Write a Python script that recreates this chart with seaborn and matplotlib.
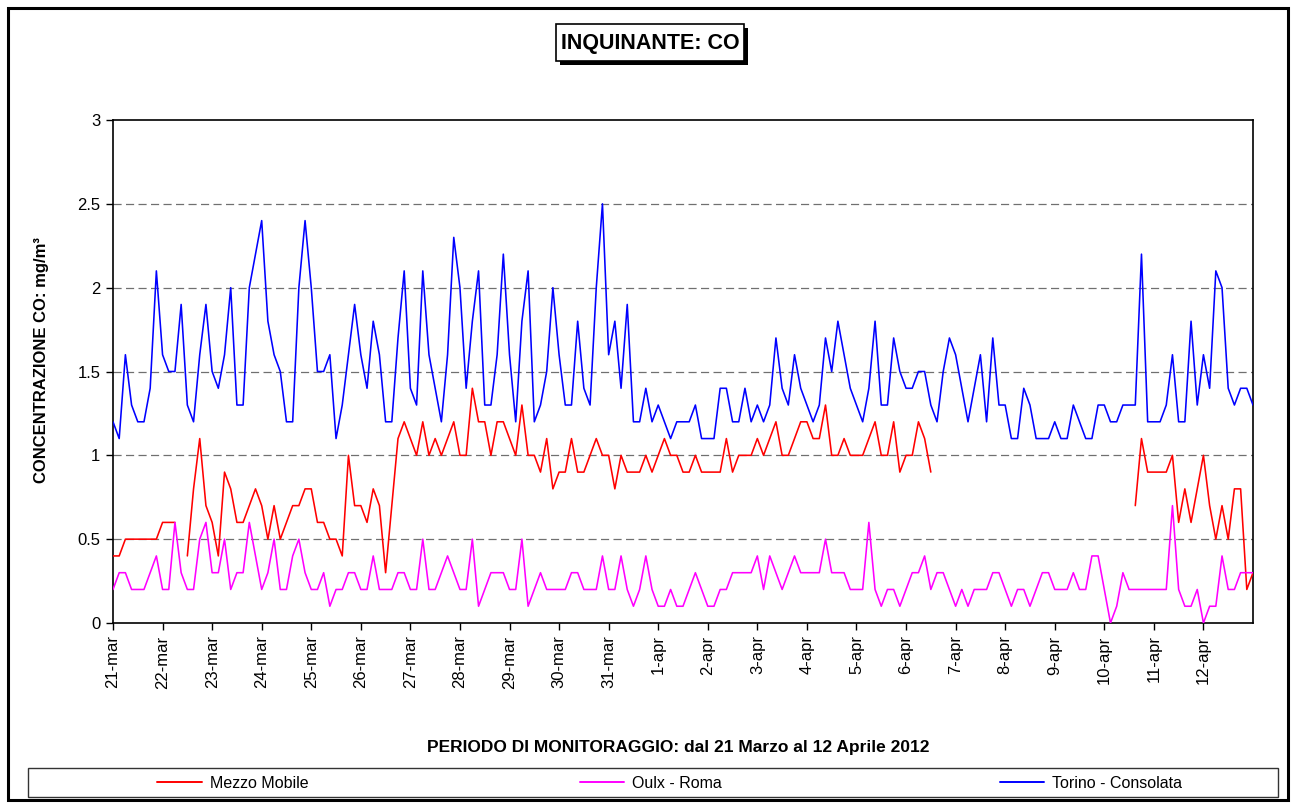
import numpy as np
import pandas as pd
import matplotlib
matplotlib.use("Agg")
import matplotlib.pyplot as plt
import seaborn as sns
from matplotlib.patches import Rectangle
from matplotlib.lines import Line2D

# ---------------- data (3-hourly readings, mg/m3) ----------------
day_labels = ["21-mar", "22-mar", "23-mar", "24-mar", "25-mar", "26-mar", "27-mar",
              "28-mar", "29-mar", "30-mar", "31-mar", "1-apr", "2-apr", "3-apr",
              "4-apr", "5-apr", "6-apr", "7-apr", "8-apr", "9-apr", "10-apr",
              "11-apr", "12-apr"]
ytick_values = [0, 0.5, 1, 1.5, 2, 2.5, 3]
ytick_labels = ["0", "0.5", "1", "1.5", "2", "2.5", "3"]
series_names = ["Mezzo Mobile", "Oulx - Roma", "Torino - Consolata"]
series_colors = ["#FF0000", "#FF00FF", "#0000FF"]
step_days = 0.125  # one reading every 3 hours

nan = np.nan
mezzo_mobile = [
    0.4, 0.4, 0.5, 0.5, 0.5, 0.5, 0.5, 0.5,
    0.6, 0.6, 0.6, nan, 0.4, 0.8, 1.1, 0.7,
    0.6, 0.4, 0.9, 0.8, 0.6, 0.6, 0.7, 0.8,
    0.7, 0.5, 0.7, 0.5, 0.6, 0.7, 0.7, 0.8,
    0.8, 0.6, 0.6, 0.5, 0.5, 0.4, 1.0, 0.7,
    0.7, 0.6, 0.8, 0.7, 0.3, 0.7, 1.1, 1.2,
    1.1, 1.0, 1.2, 1.0, 1.1, 1.0, 1.1, 1.2,
    1.0, 1.0, 1.4, 1.2, 1.2, 1.0, 1.2, 1.2,
    1.1, 1.0, 1.3, 1.0, 1.0, 0.9, 1.1, 0.8,
    0.9, 0.9, 1.1, 0.9, 0.9, 1.0, 1.1, 1.0,
    1.0, 0.8, 1.0, 0.9, 0.9, 0.9, 1.0, 0.9,
    1.0, 1.1, 1.0, 1.0, 0.9, 0.9, 1.0, 0.9,
    0.9, 0.9, 0.9, 1.1, 0.9, 1.0, 1.0, 1.0,
    1.1, 1.0, 1.1, 1.2, 1.0, 1.0, 1.1, 1.2,
    1.2, 1.1, 1.1, 1.3, 1.0, 1.0, 1.1, 1.0,
    1.0, 1.0, 1.1, 1.2, 1.0, 1.0, 1.2, 0.9,
    1.0, 1.0, 1.2, 1.1, 0.9, nan, nan, nan,
    nan, nan, nan, nan, nan, nan, nan, nan,
    nan, nan, nan, nan, nan, nan, nan, nan,
    nan, nan, nan, nan, nan, nan, nan, nan,
    nan, nan, nan, nan, nan, 0.7, 1.1, 0.9,
    0.9, 0.9, 0.9, 1.0, 0.6, 0.8, 0.6, 0.8,
    1.0, 0.7, 0.5, 0.7, 0.5, 0.8, 0.8, 0.2,
    0.3,
]
oulx_roma = [
    0.2, 0.3, 0.3, 0.2, 0.2, 0.2, 0.3, 0.4,
    0.2, 0.2, 0.6, 0.3, 0.2, 0.2, 0.5, 0.6,
    0.3, 0.3, 0.5, 0.2, 0.3, 0.3, 0.6, 0.4,
    0.2, 0.3, 0.5, 0.2, 0.2, 0.4, 0.5, 0.3,
    0.2, 0.2, 0.3, 0.1, 0.2, 0.2, 0.3, 0.3,
    0.2, 0.2, 0.4, 0.2, 0.2, 0.2, 0.3, 0.3,
    0.2, 0.2, 0.5, 0.2, 0.2, 0.3, 0.4, 0.3,
    0.2, 0.2, 0.5, 0.1, 0.2, 0.3, 0.3, 0.3,
    0.2, 0.2, 0.5, 0.1, 0.2, 0.3, 0.2, 0.2,
    0.2, 0.2, 0.3, 0.3, 0.2, 0.2, 0.2, 0.4,
    0.2, 0.2, 0.4, 0.2, 0.1, 0.2, 0.4, 0.2,
    0.1, 0.1, 0.2, 0.1, 0.1, 0.2, 0.3, 0.2,
    0.1, 0.1, 0.2, 0.2, 0.3, 0.3, 0.3, 0.3,
    0.4, 0.2, 0.4, 0.3, 0.2, 0.3, 0.4, 0.3,
    0.3, 0.3, 0.3, 0.5, 0.3, 0.3, 0.3, 0.2,
    0.2, 0.2, 0.6, 0.2, 0.1, 0.2, 0.2, 0.1,
    0.2, 0.3, 0.3, 0.4, 0.2, 0.3, 0.3, 0.2,
    0.1, 0.2, 0.1, 0.2, 0.2, 0.2, 0.3, 0.3,
    0.2, 0.1, 0.2, 0.2, 0.1, 0.2, 0.3, 0.3,
    0.2, 0.2, 0.2, 0.3, 0.2, 0.2, 0.4, 0.4,
    0.2, 0.0, 0.1, 0.3, 0.2, 0.2, 0.2, 0.2,
    0.2, 0.2, 0.2, 0.7, 0.2, 0.1, 0.1, 0.2,
    0.0, 0.1, 0.1, 0.4, 0.2, 0.2, 0.3, 0.3,
    0.3,
]
torino_consolata = [
    1.2, 1.1, 1.6, 1.3, 1.2, 1.2, 1.4, 2.1,
    1.6, 1.5, 1.5, 1.9, 1.3, 1.2, 1.6, 1.9,
    1.5, 1.4, 1.6, 2.0, 1.3, 1.3, 2.0, 2.2,
    2.4, 1.8, 1.6, 1.5, 1.2, 1.2, 2.0, 2.4,
    2.0, 1.5, 1.5, 1.6, 1.1, 1.3, 1.6, 1.9,
    1.6, 1.4, 1.8, 1.6, 1.2, 1.2, 1.7, 2.1,
    1.4, 1.3, 2.1, 1.6, 1.4, 1.2, 1.6, 2.3,
    2.0, 1.4, 1.8, 2.1, 1.3, 1.3, 1.6, 2.2,
    1.6, 1.2, 1.8, 2.1, 1.2, 1.3, 1.5, 2.0,
    1.6, 1.3, 1.3, 1.8, 1.4, 1.3, 2.0, 2.5,
    1.6, 1.8, 1.4, 1.9, 1.2, 1.2, 1.4, 1.2,
    1.3, 1.2, 1.1, 1.2, 1.2, 1.2, 1.3, 1.1,
    1.1, 1.1, 1.4, 1.4, 1.2, 1.2, 1.4, 1.2,
    1.3, 1.2, 1.3, 1.7, 1.4, 1.3, 1.6, 1.4,
    1.3, 1.2, 1.3, 1.7, 1.5, 1.8, 1.6, 1.4,
    1.3, 1.2, 1.4, 1.8, 1.3, 1.3, 1.7, 1.5,
    1.4, 1.4, 1.5, 1.5, 1.3, 1.2, 1.5, 1.7,
    1.6, 1.4, 1.2, 1.4, 1.6, 1.2, 1.7, 1.3,
    1.3, 1.1, 1.1, 1.4, 1.3, 1.1, 1.1, 1.1,
    1.2, 1.1, 1.1, 1.3, 1.2, 1.1, 1.1, 1.3,
    1.3, 1.2, 1.2, 1.3, 1.3, 1.3, 2.2, 1.2,
    1.2, 1.2, 1.3, 1.6, 1.2, 1.2, 1.8, 1.3,
    1.6, 1.4, 2.1, 2.0, 1.4, 1.3, 1.4, 1.4,
    1.3,
]

# ---------------- long table (segments keep the data gaps) ----------------
rows = []
for name, vals in zip(series_names, [mezzo_mobile, oulx_roma, torino_consolata]):
    seg = 0
    prev_nan = False
    for i, v in enumerate(vals):
        if np.isnan(v):
            prev_nan = True
            continue
        if prev_nan:
            seg += 1
            prev_nan = False
        rows.append({"t": i * step_days, "v": v, "series": name, "seg": seg})
df = pd.DataFrame(rows)

# ---------------- figure ----------------
sns.set_style("white")
plt.rcParams["font.family"] = ["Liberation Sans", "DejaVu Sans"]
plt.rcParams["text.color"] = "black"
plt.rcParams["axes.labelcolor"] = "black"
plt.rcParams["xtick.color"] = "black"
plt.rcParams["ytick.color"] = "black"

W, H = 1295, 805
fig = plt.figure(figsize=(W / 100, H / 100), dpi=100)
fig.patch.set_facecolor("white")

def fx(px):
    return px / W

def fy(py):
    return 1 - py / H

ax = fig.add_axes([fx(113), fy(623), fx(1253) - fx(113), fy(120) - fy(623)])

for yv in ytick_values[1:-1]:
    ax.axhline(yv, color="#707070", lw=0.9, ls=(0, (6.5, 3.5)), zorder=0)

sns.lineplot(data=df, x="t", y="v", hue="series", units="seg", estimator=None,
             hue_order=series_names, palette=series_colors, sort=False,
             lw=1.15, legend=False, ax=ax, zorder=3)

ax.set_xlim(0, len(day_labels))
ax.set_ylim(0, 3)
ax.set_yticks(ytick_values)
ax.set_yticklabels(ytick_labels, fontsize=12, color="black")
ax.set_xticks(np.arange(len(day_labels)))
ax.set_xticklabels(day_labels, rotation=90, fontsize=12, color="black")
ax.tick_params(axis="both", bottom=True, left=True, direction="out",
               length=5, width=1, colors="black", pad=4)
ax.set_xlabel("")
ax.set_ylabel("")
for sp in ax.spines.values():
    sp.set_visible(True)
    sp.set_color("black")
    sp.set_linewidth(1.2)

# axis titles
fig.text(fx(42), fy(360), "CONCENTRAZIONE CO: mg/m³", rotation=90, ha="center",
         va="center", fontsize=12, fontweight="bold", color="black")
fig.text(fx(678), fy(747), "PERIODO DI MONITORAGGIO: dal 21 Marzo al 12 Aprile 2012",
         ha="center", va="center", fontsize=12.5, fontweight="bold", color="black")

# title box with shadow
bx0, by0, bx1, by1 = 556, 24, 744, 61
fig.patches.append(Rectangle((fx(bx0 + 4), fy(by1 + 4)), fx(bx1) - fx(bx0), fy(by0) - fy(by1),
                             transform=fig.transFigure, facecolor="black", edgecolor="black",
                             lw=0, zorder=1))
fig.patches.append(Rectangle((fx(bx0), fy(by1)), fx(bx1) - fx(bx0), fy(by0) - fy(by1),
                             transform=fig.transFigure, facecolor="white", edgecolor="black",
                             lw=1.2, zorder=2))
fig.text(fx(650), fy(43), "INQUINANTE: CO", ha="center", va="center",
         fontsize=15.5, fontweight="bold", color="black", zorder=3)

# legend box and entries
fig.patches.append(Rectangle((fx(28), fy(797)), fx(1278) - fx(28), fy(768) - fy(797),
                             transform=fig.transFigure, facecolor="white", edgecolor="#333333",
                             lw=1.0, zorder=1))
legend_centers = [233, 651, 1091]
for name, col, cx in zip(series_names, series_colors, legend_centers):
    h = Line2D([], [], color=col, lw=1.4)
    leg = fig.legend(handles=[h], labels=[name], loc="center",
                     bbox_to_anchor=(fx(cx), fy(783)), frameon=False, fontsize=11.5,
                     handlelength=2.8, handletextpad=0.5, borderpad=0, labelcolor="black")
    leg.set_zorder(4)

# outer frame
fig.patches.append(Rectangle((fx(8), fy(800)), fx(1288) - fx(8), fy(8) - fy(800),
                             transform=fig.transFigure, facecolor="none", edgecolor="black",
                             lw=2.2, zorder=5))

fig.savefig("out.png", dpi=100, facecolor="white")
